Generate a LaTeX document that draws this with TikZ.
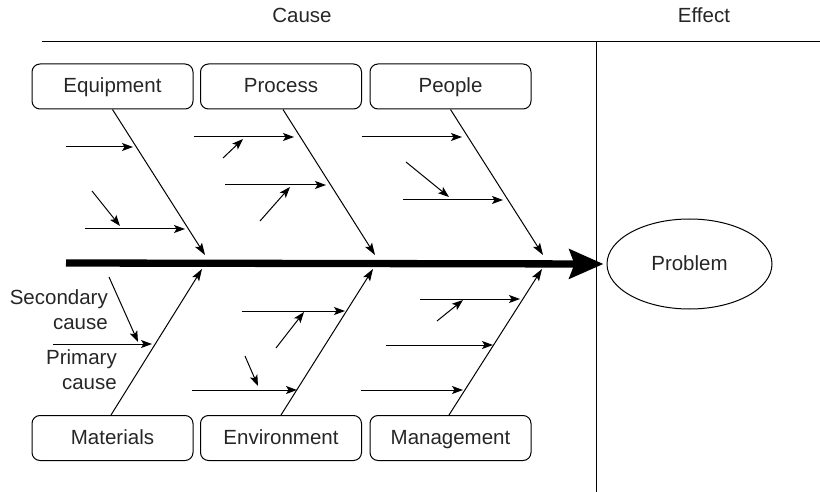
\documentclass[tikz,border=0pt]{standalone}
\usepackage{fontspec}
\setmainfont{Liberation Sans}
\usetikzlibrary{arrows.meta,shapes.geometric}
\tikzset{
  lbl/.style={font=\fontsize{20.5}{25}\selectfont, text=black!85},
  catbox/.style={lbl, draw, line width=1pt, rounded corners=8pt, minimum width=161pt, minimum height=45pt, inner sep=0pt, text height=15pt, text depth=2pt},
  bone/.style={line width=1pt, -{Stealth[length=12pt,width=8pt,inset=2.5pt]}},
  cause/.style={line width=1pt, -{Stealth[length=11pt,width=8pt,inset=2.5pt]}},
  spine/.style={line width=7.3pt, -{Stealth[length=34pt,width=29pt,inset=5pt]}},
  frame/.style={line width=1pt}
}
\begin{document}
\begin{tikzpicture}[x=1pt,y=-1pt]
\useasboundingbox (0,0) rectangle (820,492);
% header
\node[lbl, text height=15pt, text depth=2pt] (cause) at (302,16) {Cause};
\node[lbl, text height=15pt, text depth=2pt] (effect) at (704,16) {Effect};
\coordinate (hl) at (42,42);
\coordinate (hr) at (820,42);
\coordinate (vt) at (596,42);
\coordinate (vb) at (596,492);
\draw[frame] (hl) -- (hr);
\draw[frame] (vt) -- (vb);
% boxes
\node[catbox] (equip) at (112.5,86.5) {Equipment};
\node[catbox] (proc) at (281,86.5) {Process};
\node[catbox] (people) at (450.5,86.5) {People};
\node[catbox] (mat) at (112.5,438) {Materials};
\node[catbox] (env) at (281,438) {Environment};
\node[catbox] (mgmt) at (450.5,438) {Management};
% problem
\node[lbl, draw, line width=1pt, ellipse, minimum width=165pt, minimum height=90pt, inner sep=0pt, text height=15pt, text depth=2pt] (prob) at (689.5,264) {Problem};
% spine
\coordinate (sp0) at (66,263);
\draw[spine, shorten >=3pt] (sp0) -- (prob.west);
% bones
\coordinate (eqE) at (205,255);
\coordinate (prE) at (375,255);
\coordinate (peE) at (543,255);
\coordinate (maE) at (202,269);
\coordinate (enE) at (373,269);
\coordinate (mgE) at (542,269);
\draw[bone] (equip.south) -- (eqE);
\draw[bone] (proc.south -| 283,0) -- (prE);
\draw[bone] (people.south) -- (peE);
\draw[bone] (mat.north -| 111,0) -- (maE);
\draw[bone] (env.north) -- (enE);
\draw[bone] (mgmt.north -| 449,0) -- (mgE);
% causes: Equipment
\coordinate (e1a) at (66,147);  \coordinate (e1b) at (133,147);
\coordinate (e2a) at (85,229);  \coordinate (e2b) at (185,229);
\coordinate (e2sa) at (92,191); \coordinate (e2sb) at (120,226);
\draw[cause] (e1a) -- (e1b);
\draw[cause] (e2a) -- (e2b);
\draw[cause] (e2sa) -- (e2sb);
% Process
\coordinate (p1a) at (194,137);  \coordinate (p1b) at (294,137);
\coordinate (p1sa) at (223,158); \coordinate (p1sb) at (243,139);
\coordinate (p2a) at (225,185);  \coordinate (p2b) at (326,185);
\coordinate (p2sa) at (260,221); \coordinate (p2sb) at (290,187);
\draw[cause] (p1a) -- (p1b);
\draw[cause] (p1sa) -- (p1sb);
\draw[cause] (p2a) -- (p2b);
\draw[cause] (p2sa) -- (p2sb);
% People
\coordinate (q1a) at (362,137);  \coordinate (q1b) at (462,137);
\coordinate (q2a) at (403,200);  \coordinate (q2b) at (503,200);
\coordinate (q2sa) at (406,162); \coordinate (q2sb) at (449,197);
\draw[cause] (q1a) -- (q1b);
\draw[cause] (q2a) -- (q2b);
\draw[cause] (q2sa) -- (q2sb);
% Materials
\coordinate (m1a) at (53,344);   \coordinate (m1b) at (152,344);
\coordinate (m1sa) at (109,277); \coordinate (m1sb) at (138,342);
\draw[cause] (m1a) -- (m1b);
\draw[cause] (m1sa) -- (m1sb);
\node[lbl, anchor=east, align=right, inner sep=0pt] (seclbl) at (108,309.5) {Secondary\\cause};
\node[lbl, anchor=east, align=right, inner sep=0pt] (primlbl) at (117,369.5) {Primary\\cause};
% Environment
\coordinate (n1a) at (242,311);  \coordinate (n1b) at (345,311);
\coordinate (n1sa) at (276,348); \coordinate (n1sb) at (304,312);
\coordinate (n2a) at (192,390);  \coordinate (n2b) at (297,390);
\coordinate (n2sa) at (245,356); \coordinate (n2sb) at (258,386);
\draw[cause] (n1a) -- (n1b);
\draw[cause] (n1sa) -- (n1sb);
\draw[cause] (n2a) -- (n2b);
\draw[cause] (n2sa) -- (n2sb);
% Management
\coordinate (g1a) at (420,299);  \coordinate (g1b) at (520,299);
\coordinate (g1sa) at (437,321); \coordinate (g1sb) at (463,300);
\coordinate (g2a) at (386,345);  \coordinate (g2b) at (493,345);
\coordinate (g3a) at (361,390);  \coordinate (g3b) at (463,390);
\draw[cause] (g1a) -- (g1b);
\draw[cause] (g1sa) -- (g1sb);
\draw[cause] (g2a) -- (g2b);
\draw[cause] (g3a) -- (g3b);
\end{tikzpicture}
\end{document}
